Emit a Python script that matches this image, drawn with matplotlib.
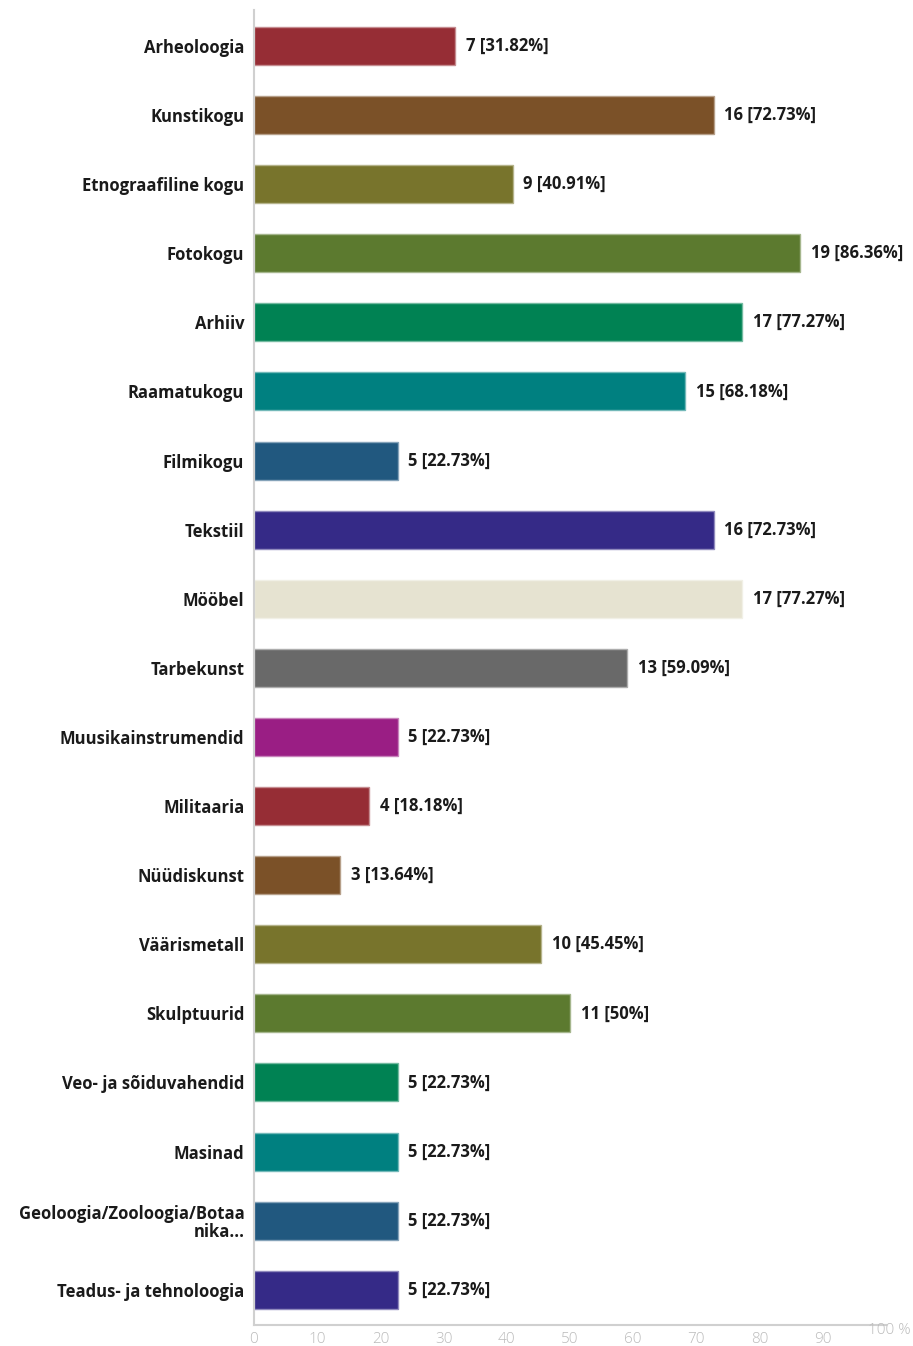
import matplotlib.pyplot as plt
from matplotlib.colors import to_rgb

# kogude liigid ja vastuste arv (kokku 22 vastajat)
kategooriad = ["Arheoloogia", "Kunstikogu", "Etnograafiline kogu", "Fotokogu", "Arhiiv",
               "Raamatukogu", "Filmikogu", "Tekstiil", "Mööbel", "Tarbekunst",
               "Muusikainstrumendid", "Militaaria", "Nüüdiskunst", "Väärismetall",
               "Skulptuurid", "Veo- ja sõiduvahendid", "Masinad",
               "Geoloogia/Zooloogia/Botaa\nnika...", "Teadus- ja tehnoloogia"]
arvud = [7, 16, 9, 19, 17, 15, 5, 16, 17, 13, 5, 4, 3, 10, 11, 5, 5, 5, 5]
protsendid = [31.82, 72.73, 40.91, 86.36, 77.27, 68.18, 22.73, 72.73, 77.27, 59.09,
              22.73, 18.18, 13.64, 45.45, 50, 22.73, 22.73, 22.73, 22.73]
varvid = ["#962d35", "#7b5128", "#78742c", "#5c7a2f", "#008253", "#008080", "#21587f",
          "#352a87", "#e6e3d1", "#696969", "#9a1e84", "#962d35", "#7b5128", "#78742c",
          "#5c7a2f", "#008253", "#008080", "#21587f", "#352a87"]
x_ticks = [0, 10, 20, 30, 40, 50, 60, 70, 80, 90]

plt.rcParams['font.family'] = ['Open Sans', 'DejaVu Sans']

def heledam(c, t=0.45):
    r, g, b = to_rgb(c)
    return (r + (1 - r) * t, g + (1 - g) * t, b + (1 - b) * t)

fig = plt.figure(figsize=(9.13, 13.46), dpi=100)
ax = fig.add_axes([0.2782, 0.0156, 0.6922, 0.977])

y = list(range(len(kategooriad)))
ax.barh(y, protsendid, height=0.55, color=varvid,
        edgecolor=[heledam(c) for c in varvid], linewidth=1)

for i in range(len(arvud)):
    ax.text(protsendid[i] + 1.7, i, f"{arvud[i]} [{protsendid[i]:g}%]",
            va='center', ha='left', fontsize=12, fontweight='bold', color='#1a1a1a')

ax.set_yticks(y)
ax.set_yticklabels(kategooriad, fontsize=12, fontweight='bold', color='#1a1a1a',
                   ha='right', linespacing=1.0)
ax.tick_params(axis='y', length=0, pad=7)

ax.set_xticks(x_ticks)
ax.set_xticklabels([str(t) for t in x_ticks], fontsize=11, color='#bbbbbb',
                   fontweight='light')
ax.tick_params(axis='x', length=0, pad=5)
fig.text(0.997, 1 - 1323 / 1346, "100 %", ha='right', va='top',
         fontsize=11, color='#bbbbbb', fontweight='light')

ax.set_xlim(0, 100)
ax.set_ylim(18.51, -0.52)

for s in ['top', 'right']:
    ax.spines[s].set_visible(False)
for s in ['left', 'bottom']:
    ax.spines[s].set_color('#d0d0d0')
    ax.spines[s].set_linewidth(1.5)

plt.savefig("out.png", dpi=100)
